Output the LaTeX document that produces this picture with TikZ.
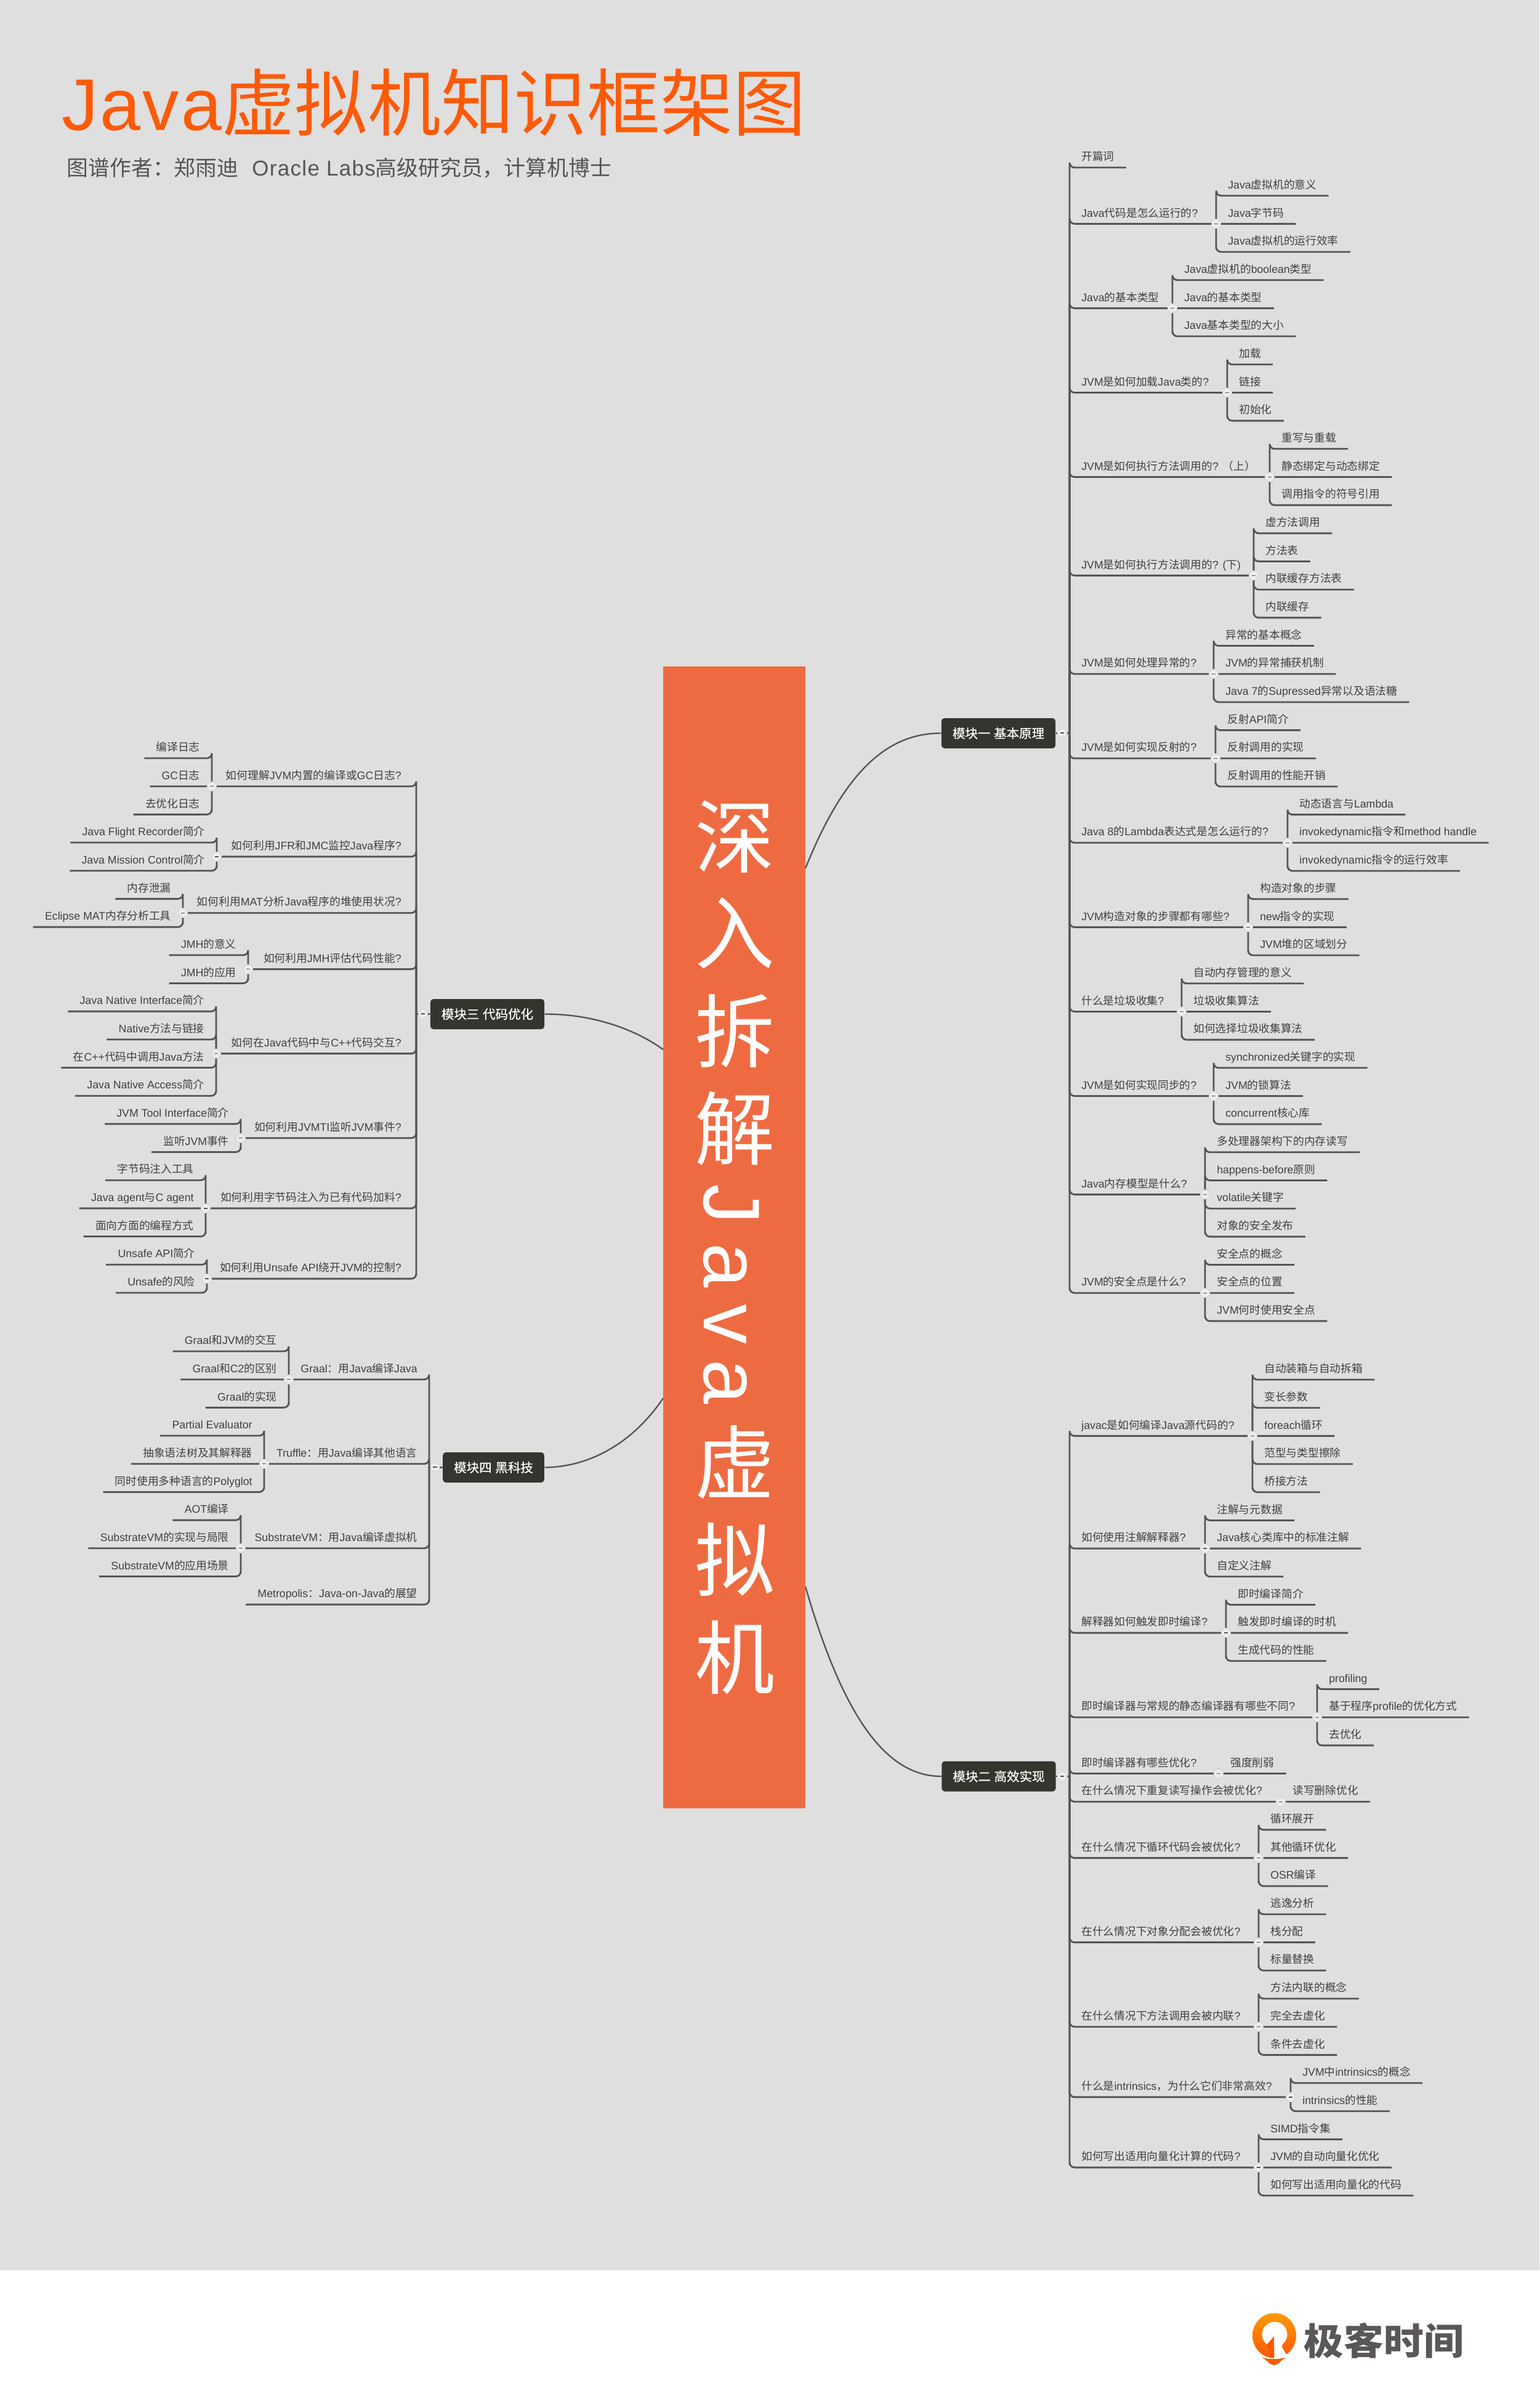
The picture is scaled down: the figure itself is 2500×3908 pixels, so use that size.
\documentclass[tikz,border=0pt]{standalone}
\usepackage{fontspec}
\setmainfont{Liberation Sans}
\newfontfamily\cjkfont{Noto Sans CJK SC}
\newfontfamily\cjkmedium[FakeBold=0.5]{Noto Sans CJK SC}
\newfontfamily\titlelatin[LetterSpace=2.5]{Liberation Sans}
\newfontfamily\authorlatin[LetterSpace=4]{Liberation Sans}
\newcommand{\latinfont}{\rmfamily}
\XeTeXinterchartokenstate=1
\newXeTeXintercharclass\cjkclass
\newcount\cjkcode
\newcommand{\markcjk}[2]{\cjkcode=#1 \loop\XeTeXcharclass\cjkcode=\cjkclass \ifnum\cjkcode<#2 \advance\cjkcode by 1 \repeat}
\markcjk{"3000}{"303F}
\markcjk{"4E00}{"9FFF}
\markcjk{"FF00}{"FFEF}
\XeTeXinterchartoks 0 \cjkclass={\cjkfont}
\XeTeXinterchartoks \cjkclass 0={\latinfont}
\XeTeXinterchartoks 4095 \cjkclass={\cjkfont}
\XeTeXinterchartoks \cjkclass 4095={\latinfont}

\definecolor{paper}{HTML}{DFDFDF}
\definecolor{rootfill}{HTML}{EE6B42}
\definecolor{titleorange}{HTML}{FF5A05}
\definecolor{inkgrey}{HTML}{404040}
\definecolor{linegrey}{HTML}{555555}
\definecolor{boxdark}{HTML}{35352F}
\definecolor{logogrey}{HTML}{595757}

\tikzset{
    topic/.style={anchor=\nearside, inner xsep=5.6pt, inner ysep=3.2pt, text height=5pt, text depth=0pt,
        text=inkgrey, font=\fontsize{5.32pt}{6.4pt}\selectfont},
    branch/.style={draw=linegrey, line width=.85pt, rounded corners=2.4pt},
    collapse/.style={circle, fill=gray!15, draw=gray!35, line width=.25pt, minimum size=4.6pt, inner sep=0pt,
        path picture={\draw[linegrey, line width=.4pt] ([xshift=-1pt]path picture bounding box.center) -- ([xshift=1pt]path picture bounding box.center);}},
    modulebox/.style={fill=boxdark, text=white, rounded corners=1.5pt, inner xsep=5.4pt, minimum height=14.7pt,
        inner ysep=0pt, font=\fontsize{6.15pt}{7pt}\selectfont\def\cjkfont{\cjkmedium}},
    rootglyph/.style={text=white, inner sep=0pt, font=\fontsize{39pt}{40pt}\selectfont},
    rootcurve/.style={draw=linegrey, line width=.7pt},
}

\newcommand{\maptopic}[3]{
    \pgfmathsetmacro\topicy{\rowzero+45.68*(#2)}
    \node[topic] (#1) at (\trunkx,\topicy) {#3};
    \draw[branch] (\trunkname) |- (#1.\nearside) -- (#1.\farside);
}
\newcommand{\mapbranch}[6]{
    \pgfmathsetmacro\topicy{\rowzero+45.68*(#2+(#3-1)/2)}
    \node[topic] (#1) at (\trunkx,\topicy) {#5\topicpad};
    \coordinate (#1j) at (#4,\topicy);
    \draw[branch] (\trunkname) |- (#1.\nearside) -- (#1j);
    \foreach \leaftext [count=\leafno from 0] in {#6} {
        \pgfmathsetmacro\leafy{\rowzero+45.68*(#2+\leafno)}
        \node[topic] (#1-\leafno) at (#4,\leafy) {\leaftext};
        \draw[branch] (#1j) |- (#1-\leafno.\nearside) -- (#1-\leafno.\farside);
    }
    \node[collapse] (#1c) at (#1j) {};
}

\begin{document}
\begin{tikzpicture}[x=0.3pt, y=-0.3pt]
    \useasboundingbox (0,0) rectangle (2500,3908);
    \fill[white] (0,0) rectangle (2500,3908);
    \fill[paper] (0,0) rectangle (2500,3686);

    \node[anchor=base west, inner sep=0pt, text=titleorange, font=\fontsize{35.6pt}{40pt}\selectfont\def\latinfont{\titlelatin}\titlelatin] (title) at (100,212) {Java虚拟机知识框架图};
    \node[anchor=base west, inner sep=0pt, text=linegrey, font=\fontsize{10.45pt}{12pt}\selectfont\def\latinfont{\authorlatin}\authorlatin] (author) at (108,286) {图谱作者：郑雨迪~~Oracle Labs高级研究员，计算机博士};

    \node[modulebox] (m1) at (1621.5,1190.5) {模块一 基本原理};
    \node[modulebox] (m2) at (1622,2884) {模块二 高效实现};
    \node[modulebox] (m3) at (791.5,1646.5) {模块三 代码优化};
    \node[modulebox] (m4) at (801.5,2382.5) {模块四 黑科技};

    \coordinate (rootA) at (1308,1410);
    \coordinate (rootB) at (1308,2576);
    \coordinate (rootC) at (1077,1704);
    \coordinate (rootD) at (1077,2270);
    \draw[rootcurve] (m1.west) .. controls (1440,1190) and (1370,1255) .. (rootA);
    \draw[rootcurve] (m2.west) .. controls (1440,2884) and (1370,2790) .. (rootB);
    \draw[rootcurve] (m3.east) .. controls (960,1646) and (1030,1670) .. (rootC);
    \draw[rootcurve] (m4.east) .. controls (960,2382) and (1030,2340) .. (rootD);

    \node[fill=rootfill, minimum width=69.3pt, minimum height=556.2pt, inner sep=0pt] (root) at (1192.5,2009) {};
    \foreach \glyph/\glyphy [count=\n] in {深/1358,入/1515,拆/1674,解/1832,虚/2374,拟/2532,机/2691}
        \node[rootglyph] (g\n) at (1193,\glyphy) {\glyph};
    \foreach \glyph/\glyphy [count=\n] in {J/1955,a/2054.5,v/2150,a/2243.5}
        \node[rootglyph, rotate=-90, anchor=base] (j\n) at (1143,\glyphy) {\glyph};

    % module one
    \def\nearside{south west}
    \def\farside{south east}
    \def\topicpad{}
    \def\trunkx{1737}
    \def\rowzero{272}
    \def\trunkname{m1t}
    \coordinate (m1t) at (1737,1190);
    \draw[branch] (m1.east) -- (m1t);
    \node[collapse] (m1c) at (1725,1190) {};
    \maptopic{a0}{0}{开篇词}
    \mapbranch{a1}{1}{3}{1975}{Java代码是怎么运行的?}{Java虚拟机的意义,Java字节码,Java虚拟机的运行效率}
    \mapbranch{a2}{4}{3}{1904}{Java的基本类型}{Java虚拟机的boolean类型,Java的基本类型,Java基本类型的大小}
    \mapbranch{a3}{7}{3}{1993}{JVM是如何加载Java类的?}{加载,链接,初始化}
    \mapbranch{a4}{10}{3}{2062}{JVM是如何执行方法调用的? （上）}{重写与重载,静态绑定与动态绑定,调用指令的符号引用}
    \mapbranch{a5}{13}{4}{2036}{JVM是如何执行方法调用的? (下)}{虚方法调用,方法表,内联缓存方法表,内联缓存}
    \mapbranch{a6}{17}{3}{1971}{JVM是如何处理异常的?}{异常的基本概念,JVM的异常捕获机制,Java 7的Supressed异常以及语法糖}
    \mapbranch{a7}{20}{3}{1974}{JVM是如何实现反射的?}{反射API简介,反射调用的实现,反射调用的性能开销}
    \mapbranch{a8}{23}{3}{2091}{Java 8的Lambda表达式是怎么运行的?}{动态语言与Lambda,invokedynamic指令和method handle,invokedynamic指令的运行效率}
    \mapbranch{a9}{26}{3}{2027}{JVM构造对象的步骤都有哪些?}{构造对象的步骤,new指令的实现,JVM堆的区域划分}
    \mapbranch{a10}{29}{3}{1919}{什么是垃圾收集?}{自动内存管理的意义,垃圾收集算法,如何选择垃圾收集算法}
    \mapbranch{a11}{32}{3}{1971}{JVM是如何实现同步的?}{synchronized关键字的实现,JVM的锁算法,concurrent核心库}
    \mapbranch{a12}{35}{4}{1957}{Java内存模型是什么?}{多处理器架构下的内存读写,happens-before原则,volatile关键字,对象的安全发布}
    \mapbranch{a13}{39}{3}{1957}{JVM的安全点是什么?}{安全点的概念,安全点的位置,JVM何时使用安全点}

    % module two
    \def\rowzero{2240}
    \def\trunkname{m2t}
    \coordinate (m2t) at (1737,2884);
    \draw[branch] (m2.east) -- (m2t);
    \node[collapse] (m2c) at (1725,2884) {};
    \mapbranch{b1}{0}{5}{2034}{javac是如何编译Java源代码的?}{自动装箱与自动拆箱,变长参数,foreach循环,范型与类型擦除,桥接方法}
    \mapbranch{b2}{5}{3}{1957}{如何使用注解解释器?}{注解与元数据,Java核心类库中的标准注解,自定义注解}
    \mapbranch{b3}{8}{3}{1991}{解释器如何触发即时编译?}{即时编译简介,触发即时编译的时机,生成代码的性能}
    \mapbranch{b4}{11}{3}{2139}{即时编译器与常规的静态编译器有哪些不同?}{profiling,基于程序profile的优化方式,去优化}
    \mapbranch{b5}{14}{1}{1979}{即时编译器有哪些优化?}{强度削弱}
    \mapbranch{b6}{15}{1}{2080}{在什么情况下重复读写操作会被优化?}{读写删除优化}
    \mapbranch{b7}{16}{3}{2044}{在什么情况下循环代码会被优化?}{循环展开,其他循环优化,OSR编译}
    \mapbranch{b8}{19}{3}{2044}{在什么情况下对象分配会被优化?}{逃逸分析,栈分配,标量替换}
    \mapbranch{b9}{22}{3}{2044}{在什么情况下方法调用会被内联?}{方法内联的概念,完全去虚化,条件去虚化}
    \mapbranch{b10}{25}{2}{2096}{什么是intrinsics，为什么它们非常高效?}{JVM中intrinsics的概念,intrinsics的性能}
    \mapbranch{b11}{27}{3}{2044}{如何写出适用向量化计算的代码?}{SIMD指令集,JVM的自动向量化优化,如何写出适用向量化的代码}

    % module three
    \def\nearside{south east}
    \def\farside{south west}
    \def\topicpad{\kern1.5pt}
    \def\trunkx{676}
    \def\rowzero{1231}
    \def\trunkname{m3t}
    \coordinate (m3t) at (676,1646);
    \draw[branch] (m3.west) -- (m3t);
    \node[collapse] (m3c) at (687,1646) {};
    \mapbranch{c1}{0}{3}{344}{如何理解JVM内置的编译或GC日志?}{编译日志,GC日志,去优化日志}
    \mapbranch{c2}{3}{2}{352}{如何利用JFR和JMC监控Java程序?}{Java Flight Recorder简介,Java Mission Control简介}
    \mapbranch{c3}{5}{2}{297}{如何利用MAT分析Java程序的堆使用状况?}{内存泄漏,Eclipse MAT内存分析工具}
    \mapbranch{c4}{7}{2}{403}{如何利用JMH评估代码性能?}{JMH的意义,JMH的应用}
    \mapbranch{c5}{9}{4}{351}{如何在Java代码中与C++代码交互?}{Java Native Interface简介,Native方法与链接,在C++代码中调用Java方法,Java Native Access简介}
    \mapbranch{c6}{13}{2}{391}{如何利用JVMTI监听JVM事件?}{JVM Tool Interface简介,监听JVM事件}
    \mapbranch{c7}{15}{3}{334}{如何利用字节码注入为已有代码加料?}{字节码注入工具,Java agent与C agent,面向方面的编程方式}
    \mapbranch{c8}{18}{2}{336}{如何利用Unsafe API绕开JVM的控制?}{Unsafe API简介,Unsafe的风险}

    % module four
    \def\topicpad{}
    \def\trunkx{697}
    \def\rowzero{2194}
    \def\trunkname{m4t}
    \coordinate (m4t) at (697,2382);
    \draw[branch] (m4.west) -- (m4t);
    \node[collapse] (m4c) at (706.5,2382) {};
    \mapbranch{d1}{0}{3}{469}{Graal：用Java编译Java}{Graal和JVM的交互,Graal和C2的区别,Graal的实现}
    \mapbranch{d2}{3}{3}{429}{Truffle：用Java编译其他语言}{Partial Evaluator,抽象语法树及其解释器,同时使用多种语言的Polyglot}
    \mapbranch{d3}{6}{3}{391}{SubstrateVM：用Java编译虚拟机}{AOT编译,SubstrateVM的实现与局限,SubstrateVM的应用场景}
    \maptopic{d4}{9}{Metropolis：Java-on-Java的展望}

    % logo
    \shade[top color=orange!80!yellow, bottom color=orange!70!red] (2069.5,3792) ellipse [x radius=35.5, y radius=36.5];
    \fill[white] (2070,3790) circle [radius=20.5];
    \fill[orange!70!red] (2069.3,3792.7) -- (2057.3,3806.7) -- (2060,3818) -- (2069.3,3829) -- cycle;
    \fill[white] (2069.3,3792) -- (2069.3,3832) -- (2100,3832) -- (2088.3,3821.7) -- (2081.7,3810) -- (2085,3798) -- cycle;
    \fill[orange!70!red] (2049.3,3827.3) .. controls (2060,3831) and (2078,3831) .. (2088.3,3827.3) .. controls (2080,3832) and (2076,3840) .. (2069,3840) .. controls (2062,3840) and (2058,3832) .. (2049.3,3827.3) -- cycle;
    \node[anchor=west, inner sep=0pt, xscale=1.08, text=logogrey, font=\fontsize{18pt}{20pt}\selectfont\bfseries] (brand) at (2117,3800) {极客时间};
\end{tikzpicture}
\end{document}
